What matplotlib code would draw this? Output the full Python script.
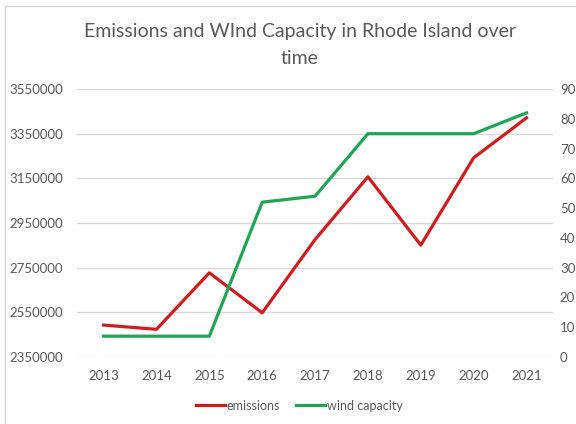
import matplotlib.pyplot as plt
from matplotlib.patches import Rectangle
from matplotlib.ticker import FuncFormatter

plt.rcParams['font.family'] = ['Lato', 'DejaVu Sans']

# données
years = ['2013', '2014', '2015', '2016', '2017', '2018', '2019', '2020', '2021']
emissions = [2493000, 2474000, 2727000, 2548000, 2876000, 3157000, 2851000, 3242000, 3421000]
wind_capacity = [7, 7, 7, 52, 54, 75, 75, 75, 82]
left_ticks = [2350000, 2550000, 2750000, 2950000, 3150000, 3350000, 3550000]
right_ticks = [0, 10, 20, 30, 40, 50, 60, 70, 80, 90]

grey = '#595959'
red = '#d01c1f'
green = '#1fa555'

fig = plt.figure(figsize=(5.76, 4.24), dpi=100)
ax = fig.add_axes([0.134, 0.158, 0.826, 0.632])
ax2 = ax.twinx()

x = range(len(years))
l1, = ax.plot(x, emissions, color=red, lw=2.3, label='emissions')
l2, = ax2.plot(x, wind_capacity, color=green, lw=2.3, label='wind capacity')

ax.set_xlim(-0.5, len(years) - 0.5)
ax.set_ylim(2350000, 3550000)
ax2.set_ylim(0, 90)
ax.set_xticks(list(x))
ax.set_xticklabels(years)
ax.set_yticks(left_ticks)
ax.yaxis.set_major_formatter(FuncFormatter(lambda v, p: '%d' % v))
ax2.set_yticks(right_ticks)

ax.grid(axis='y', color='#d9d9d9', lw=1)
ax.set_axisbelow(True)
for a in (ax, ax2):
    for s in a.spines.values():
        s.set_visible(False)
    a.tick_params(length=0, colors=grey, labelsize=9.5)
ax.tick_params(axis='x', pad=9)
ax.tick_params(axis='y', pad=10)
ax2.tick_params(axis='y', pad=5)

fig.text(0.52, 0.925, 'Emissions and WInd Capacity in Rhode Island over', ha='center', va='center',
         fontsize=14, color=grey)
fig.text(0.52, 0.862, 'time', ha='center', va='center', fontsize=14, color=grey)

fig.legend(handles=[l1, l2], loc='center', bbox_to_anchor=(0.52, 0.043), ncol=2, frameon=False,
           fontsize=9, labelcolor=grey, handlelength=2.3, handletextpad=0.15, columnspacing=1.3)

# bordure du cadre
fig.add_artist(Rectangle((0.008, -0.01), 1.1, 0.995, transform=fig.transFigure,
                         fill=False, edgecolor='#d9d9d9', lw=1))

fig.savefig('out.png', dpi=100)
